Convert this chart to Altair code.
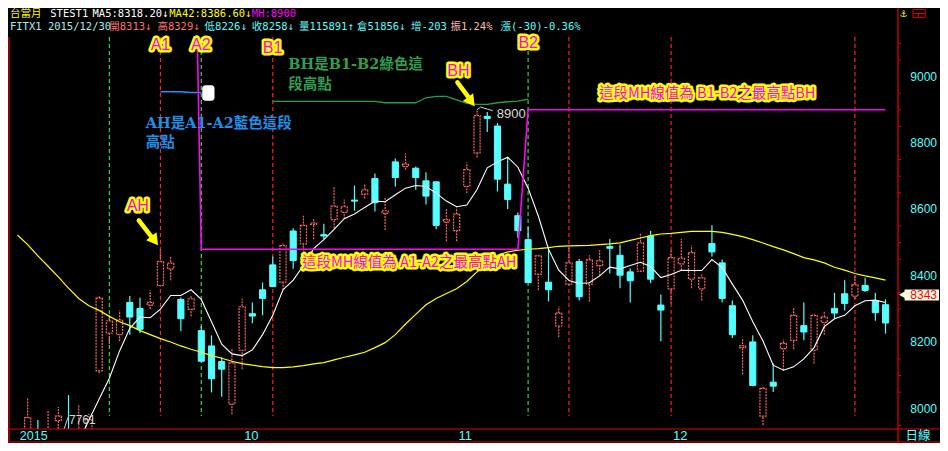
import altair as alt
import pandas as pd

# ---------------- values ----------------
# daily bars: index 0 = first bar on the left ... 84 = 2015/12/30
opens = [7900, 7930, 7890, 7964, 7930, 7880, 7930, 8114, 8228, 8223,
         8320, 8302, 8312, 8371, 8421, 8329, 8299, 8235, 8189, 8142,
         8014, 8176, 8286, 8358, 8433, 8381, 8535, 8496, 8555, 8524,
         8569, 8591, 8628, 8646, 8693, 8588, 8743, 8729, 8724, 8686,
         8683, 8562, 8536, 8669, 8770, 8880, 8851, 8676, 8581, 8509,
         8405, 8381, 8249, 8375, 8443, 8375, 8431, 8488, 8462, 8412,
         8414, 8520, 8312, 8361, 8436, 8390, 8361, 8497, 8439, 8310,
         8184, 8201, 7978, 8080, 8181, 8206, 8250, 8176, 8260, 8302,
         8346, 8339, 8371, 8325, 8313]
highs = [8034, 7966, 7997, 8005, 8041, 8010, 7985, 8339, 8283, 8296,
         8339, 8334, 8357, 8479, 8460, 8335, 8339, 8249, 8221, 8155,
         8179, 8331, 8320, 8380, 8458, 8497, 8543, 8581, 8572, 8557,
         8669, 8630, 8672, 8676, 8708, 8635, 8753, 8768, 8729, 8712,
         8683, 8601, 8606, 8741, 8900, 8893, 8860, 8756, 8591, 8547,
         8465, 8480, 8308, 8489, 8451, 8462, 8477, 8511, 8494, 8422,
         8528, 8535, 8344, 8480, 8511, 8491, 8407, 8552, 8449, 8326,
         8210, 8221, 8068, 8136, 8208, 8305, 8320, 8284, 8293, 8349,
         8387, 8400, 8394, 8349, 8329]
lows = [7880, 7880, 7870, 7930, 7761, 7850, 7900, 8107, 8195, 8203,
        8223, 8228, 8300, 8368, 8387, 8233, 8278, 8140, 8049, 8036,
        7983, 8119, 8257, 8281, 8366, 8358, 8421, 8440, 8510, 8510,
        8543, 8572, 8596, 8633, 8594, 8538, 8669, 8719, 8659, 8615,
        8540, 8504, 8504, 8649, 8756, 8833, 8654, 8601, 8514, 8378,
        8357, 8323, 8215, 8371, 8326, 8323, 8400, 8407, 8363, 8320,
        8412, 8378, 8203, 8317, 8417, 8363, 8326, 8458, 8320, 8213,
        8104, 8068, 7951, 8050, 8116, 8179, 8206, 8136, 8223, 8271,
        8296, 8330, 8351, 8265, 8226]
closes = [7973, 7900, 7930, 7978, 7800, 7920, 7968, 8333, 8264, 8267,
          8276, 8239, 8320, 8443, 8438, 8271, 8331, 8143, 8090, 8119,
          8138, 8307, 8279, 8332, 8368, 8491, 8446, 8552, 8559, 8520,
          8610, 8608, 8625, 8659, 8620, 8596, 8696, 8736, 8696, 8640,
          8552, 8569, 8586, 8720, 8882, 8874, 8691, 8630, 8536, 8380,
          8460, 8358, 8288, 8439, 8337, 8448, 8445, 8483, 8402, 8385,
          8499, 8390, 8297, 8455, 8453, 8470, 8394, 8472, 8332, 8223,
          8189, 8070, 8061, 8068, 8197, 8281, 8231, 8281, 8276, 8288,
          8317, 8373, 8356, 8289, 8258]

ma5_start = 5
ma5 = [7900, 7966, 8029, 8092, 8174, 8242, 8276, 8274, 8300, 8341,
       8341, 8358, 8329, 8262, 8194, 8165, 8160, 8177, 8223, 8281,
       8358, 8387, 8431, 8482, 8509, 8540, 8572, 8586, 8606, 8625,
       8623, 8644, 8664, 8672, 8669, 8649, 8625, 8608, 8613, 8660,
       8725, 8743, 8757, 8727, 8664, 8580, 8480, 8417, 8386, 8377,
       8379, 8400, 8426, 8421, 8431, 8441, 8428, 8395, 8404, 8417,
       8416, 8416, 8449, 8425, 8375, 8327, 8262, 8204, 8131, 8116,
       8126, 8150, 8184, 8247, 8271, 8281, 8310, 8325, 8327, 8320]

ma42_start = -1
ma42 = [8523,
        8494, 8460, 8429, 8397, 8363, 8332, 8310, 8296, 8278, 8262,
        8250, 8235, 8223, 8211, 8201, 8189, 8179, 8170, 8160, 8152,
        8143, 8136, 8131, 8127, 8124, 8124, 8126, 8130, 8135, 8139,
        8147, 8155, 8162, 8170, 8184, 8199, 8223, 8255, 8284, 8313,
        8332, 8347, 8361, 8383, 8412, 8441, 8462, 8472, 8477, 8480,
        8482, 8485, 8489, 8490, 8491, 8492, 8494, 8496, 8499, 8507,
        8514, 8521, 8526, 8528, 8531, 8534, 8534, 8534, 8531, 8525,
        8518, 8509, 8499, 8488, 8478, 8467, 8455, 8448, 8439, 8426,
        8417, 8407, 8400, 8394, 8387]

mh_start = 16
mh = [10100,
      8480, 8480, 8480, 8480, 8480, 8480, 8480, 8480, 8480, 8480,
      8480, 8480, 8480, 8480, 8480, 8480, 8480, 8480, 8480, 8480,
      8480, 8480, 8480, 8480, 8480, 8480, 8480, 8480, 8480, 8480,
      8480, 8480,
      8900, 8900, 8900, 8900, 8900, 8900, 8900, 8900, 8900, 8900,
      8900, 8900, 8900, 8900, 8900, 8900, 8900, 8900, 8900, 8900,
      8900, 8900, 8900, 8900, 8900, 8900, 8900, 8900, 8900, 8900,
      8900, 8900, 8900, 8900, 8900, 8900]

bh_start = 24
bh_line = [8925, 8925, 8925, 8925, 8925, 8925, 8925, 8925, 8925, 8925,
           8925, 8921, 8921, 8921, 8921, 8936, 8940, 8940, 8930, 8919,
           8916, 8916, 8921, 8924, 8926, 8932]
ah_start = 13
ah_line = [8954, 8954, 8954, 8952, 8952]

red_marks = [13, 24, 53, 63, 81]
green_marks = [8, 17, 49]
week_ticks = [5, 10, 15, 20, 25, 27, 32, 37, 42, 47, 52, 57, 62, 67, 72, 77, 82]
month_start = [21, 42, 63]
month_labels = ["10", "11", "12"]
price_ticks = [8000, 8200, 8400, 8600, 8800, 9000]
minor_ticks = [7950, 8050, 8100, 8150, 8250, 8300, 8350, 8450, 8500, 8550,
               8650, 8700, 8750, 8850, 8900, 8950, 9050, 9100]
last_price = 8343
max_label = "8900"
min_label = "7761"

header1 = [("台當月", 2, "#ffff00"), ("STEST1", 43, "#ffffff"),
           ("MA5:8318.20↓", 86, "#ffffff"), ("MA42:8386.60↓", 164, "#ffff00"),
           ("MH:8900", 248, "#ff00ff")]
header2 = [("FITX1 2015/12/30", 2, "#a6eeee"), ("開8313↓", 103, "#ff7070"),
           ("高8329↓", 152, "#ff7070"), ("低8226↓", 200, "#55ffff"),
           ("收8258↓", 248, "#55ffff"), ("量115891↑", 296, "#55ffff"),
           ("倉51856↓", 355, "#55ffff"), ("增-203", 410, "#55ffff"),
           ("振1.24%", 450, "#ffb8b8"), ("漲(-30)-0.36%", 501, "#55ffff")]

# ---------------- layout ----------------
W, H = 890, 394
PT, PB, PR = 27, 14, 42
SX, SY = 932 / 948, 435 / 451

UP = "#ff6464"
DN = "#55ffff"
RED = "#e80000"
CYAN = "#55ffff"
NARROW = "Liberation Sans Narrow, Liberation Sans, sans-serif"


def rx(xref):
    return (xref - 20) / 10.385


def ry(yref):
    return 9000 - (yref - 71) / 0.344


def px(xref):
    return xref * SX


def py(yref):
    return (yref - 28) * SY


XS = alt.Scale(domain=[rx(0), rx(905)], nice=False, zero=False)
YS = alt.Scale(domain=[ry(436), ry(28)], nice=False, zero=False)


def X(f):
    return alt.X(f, type="quantitative", scale=XS, axis=None)


def Y(f):
    return alt.Y(f, type="quantitative", scale=YS, axis=None)


idx = list(range(len(opens)))
df = pd.DataFrame({"i": idx, "o": opens, "h": highs, "l": lows, "c": closes})
df["lo_b"] = df[["o", "c"]].min(axis=1)
df["hi_b"] = df[["o", "c"]].max(axis=1)
df["x1"] = df["i"] - 0.3
df["x2"] = df["i"] + 0.3
up_df = df[df["c"] >= df["o"]]
dn_df = df[df["c"] < df["o"]]


def seq(start, vals):
    return pd.DataFrame({"i": list(range(start, start + len(vals))), "v": vals})


layers = []

# axes carrier (ticks + dotted grid)
xaxis = alt.Axis(orient="bottom", values=week_ticks, labels=False, tickColor=RED,
                 tickSize=4, domain=False, grid=False, title="")
yaxis = alt.Axis(orient="right", values=price_ticks, labels=False, tickColor=RED, tickSize=5,
                 domain=False, grid=True, gridColor="#e01010", gridDash=[2, 3],
                 gridWidth=1, title="")
layers.append(alt.Chart(df).mark_point(opacity=0).encode(
    x=alt.X("i:Q", scale=XS, axis=xaxis), y=alt.Y("h:Q", scale=YS, axis=yaxis)))

# vertical dashed marker lines
layers.append(alt.Chart(pd.DataFrame({"i": red_marks})).mark_rule(
    color="#ff2020", strokeWidth=1.2, strokeDash=[4, 3]).encode(
    x=X("i"), y=alt.value(py(30)), y2=alt.value(py(423))))
layers.append(alt.Chart(pd.DataFrame({"i": green_marks})).mark_rule(
    color="#33dd33", strokeWidth=1.2, strokeDash=[4, 3]).encode(
    x=X("i"), y=alt.value(py(30)), y2=alt.value(py(423))))

# candles
layers.append(alt.Chart(up_df).mark_rule(color=UP, strokeWidth=1.2, strokeDash=[2, 1], clip=True).encode(
    x=X("i"), y=Y("l"), y2="h"))
layers.append(alt.Chart(dn_df).mark_rule(color=DN, strokeWidth=1.2, clip=True).encode(
    x=X("i"), y=Y("l"), y2="h"))
layers.append(alt.Chart(up_df).mark_rect(fill="black", stroke=UP, strokeWidth=1.2,
                                         strokeDash=[2, 1], clip=True).encode(
    x=X("x1"), x2="x2", y=Y("lo_b"), y2="hi_b"))
layers.append(alt.Chart(dn_df).mark_rect(fill=DN, stroke=DN, strokeWidth=1, clip=True).encode(
    x=X("x1"), x2="x2", y=Y("lo_b"), y2="hi_b"))

# indicator lines
layers.append(alt.Chart(seq(ma42_start, ma42)).mark_line(color="#ffff00", strokeWidth=1.2, clip=True).encode(
    x=X("i"), y=Y("v")))
layers.append(alt.Chart(seq(ma5_start, ma5)).mark_line(color="#ffffff", strokeWidth=1.1, clip=True).encode(
    x=X("i"), y=Y("v")))
layers.append(alt.Chart(seq(bh_start, bh_line)).mark_line(color="#25a04a", strokeWidth=1.3, clip=True).encode(
    x=X("i"), y=Y("v")))
layers.append(alt.Chart(seq(ah_start, ah_line)).mark_line(color="#1e90ff", strokeWidth=1.5, clip=True).encode(
    x=X("i"), y=Y("v")))
layers.append(alt.Chart(seq(mh_start, mh)).mark_line(color="#ff00ff", strokeWidth=1.6, clip=True).encode(
    x=X("i"), y=Y("v")))

# white blob
layers.append(alt.Chart(pd.DataFrame({"x": [rx(197.5)], "x2": [rx(210)], "y": [ry(96)], "y2": [ry(80)]})).mark_rect(
    color="white", cornerRadius=3).encode(x=X("x"), x2="x2", y=Y("y"), y2="y2"))

# explanation texts
blue_df = pd.DataFrame({"t": ["AH是A1-A2藍色這段", "高點"], "x": [rx(140), rx(140)], "y": [ry(120), ry(140)]})
layers.append(alt.Chart(blue_df).mark_text(align="left", baseline="middle", color="#1e90e8",
                                           font="DejaVu Serif, Noto Sans CJK TC", fontSize=14.5,
                                           fontWeight="bold").encode(x=X("x"), y=Y("y"), text="t:N"))
green_df = pd.DataFrame({"t": ["BH是B1-B2綠色這", "段高點"], "x": [rx(285), rx(285)], "y": [ry(59), ry(80)]})
layers.append(alt.Chart(green_df).mark_text(align="left", baseline="middle", color="#2e9e50",
                                            font="DejaVu Serif, Noto Sans CJK TC", fontSize=14.5,
                                            fontWeight="bold").encode(x=X("x"), y=Y("y"), text="t:N"))

# max / min labels
lead_df = pd.DataFrame({"x": [44.0, 44.35, 45.55], "y": [8900, 8908, 8897], "o": [0, 1, 2]})
layers.append(alt.Chart(lead_df).mark_line(color="#cccccc", strokeWidth=1).encode(
    x=X("x"), y=Y("y"), order="o:Q"))
layers.append(alt.Chart(pd.DataFrame({"t": [max_label], "x": [rx(497)], "y": [ry(110)]})).mark_text(
    align="left", baseline="middle", color="#dddddd", font=NARROW, fontSize=13).encode(
    x=X("x"), y=Y("y"), text="t:N"))
layers.append(alt.Chart(pd.DataFrame({"x": [rx(57)], "y": [ry(436)], "x2": [rx(61)], "y2": [ry(424)]})).mark_rule(
    color="#cccccc", strokeWidth=1).encode(x=X("x"), y=Y("y"), x2="x2", y2="y2"))
layers.append(alt.Chart(pd.DataFrame({"t": [min_label], "x": [rx(62)], "y": [ry(427)]})).mark_text(
    align="left", baseline="middle", color="#c8dcdc", font=NARROW, fontSize=12).encode(
    x=X("x"), y=Y("y"), text="t:N"))

# yellow arrows
arr = pd.DataFrame({"x": [rx(133), rx(457)], "y": [ry(220), ry(77)],
                    "x2": [rx(146), rx(468)], "y2": [ry(237), ry(92)]})
layers.append(alt.Chart(arr).mark_rule(color="#ffff00", strokeWidth=4.5, strokeCap="round").encode(
    x=X("x"), y=Y("y"), x2="x2", y2="y2"))
heads = pd.DataFrame({"x": [rx(148), rx(470)], "y": [ry(239.5), ry(95.5)]})
layers.append(alt.Chart(heads).mark_point(shape="triangle", filled=True, color="#ffff00", opacity=1,
                                          size=170, angle=143).encode(x=X("x"), y=Y("y")))

# glow labels (yellow halo + magenta text)
short_df = pd.DataFrame({"t": ["A1", "A2", "B1", "B2", "AH", "BH"],
                         "x": [rx(155), rx(196), rx(269), rx(529), rx(132), rx(458)],
                         "y": [ry(38.5), ry(38.5), ry(41.5), ry(36), ry(205), ry(65)]})
long_df = pd.DataFrame({"t": ["這段MH線值為 A1-A2之最高點AH", "這段MH線值為 B1-B2之最高點BH"],
                        "x": [rx(299), rx(601)], "y": [ry(264), ry(89)]})
for d, font, size, align in [(short_df, "Liberation Sans, sans-serif", 16, "center"),
                             (long_df, "Noto Sans CJK TC", 14.5, "left")]:
    layers.append(alt.Chart(d).mark_text(align=align, baseline="middle", font=font, fontSize=size,
                                         fill="#ffff00", stroke="#ffff00", strokeWidth=5,
                                         strokeJoin="round").encode(x=X("x"), y=Y("y"), text="t:N"))
    layers.append(alt.Chart(d).mark_text(align=align, baseline="middle", font=font, fontSize=size,
                                         fill="#ff00ff").encode(x=X("x"), y=Y("y"), text="t:N"))

# frame lines
one = pd.DataFrame({"k": [0]})
layers.append(alt.Chart(one).mark_rule(color=RED, strokeWidth=1.2).encode(
    x=alt.value(W), y=alt.value(-PT), y2=alt.value(H + PB)))
layers.append(alt.Chart(one).mark_rule(color=RED, strokeWidth=1.2).encode(
    x=alt.value(1), y=alt.value(py(30)), y2=alt.value(H + 13)))
layers.append(alt.Chart(one).mark_rule(color=RED, strokeWidth=1.2).encode(
    x=alt.value(0), x2=alt.value(W + PR), y=alt.value(H)))
layers.append(alt.Chart(one).mark_rule(color=RED, strokeWidth=1.2).encode(
    x=alt.value(0), x2=alt.value(W + PR), y=alt.value(H + 13)))

# minor price ticks
minor_df = pd.DataFrame({"p": minor_ticks})
layers.append(alt.Chart(minor_df).mark_rule(color=RED, strokeWidth=1).encode(
    y=Y("p"), x=alt.value(W), x2=alt.value(W + 3)))

# price labels on the right
layers.append(alt.Chart(pd.DataFrame({"p": price_ticks})).mark_text(
    align="right", baseline="middle", color=CYAN, font=NARROW, fontSize=12).encode(
    x=alt.value(W + PR - 3), y=Y("p"), text=alt.Text("p:Q", format="d")))

# last-price tag
layers.append(alt.Chart(pd.DataFrame({"y": [ry(291.5)], "y2": [ry(303)]})).mark_rect(
    color="#fffbe2").encode(x=alt.value(px(912)), x2=alt.value(W + PR - 1), y=Y("y"), y2="y2"))
layers.append(alt.Chart(pd.DataFrame({"y": [last_price]})).mark_point(
    shape="triangle-left", filled=True, color="#fffbe2", opacity=1, size=70).encode(
    x=alt.value(px(910)), y=Y("y")))
layers.append(alt.Chart(pd.DataFrame({"t": [str(last_price)], "y": [last_price]})).mark_text(
    align="right", baseline="middle", color="#ff0000", font=NARROW, fontSize=12).encode(
    x=alt.value(W + PR - 3), y=Y("y"), text="t:N"))

# bottom labels
layers.append(alt.Chart(pd.DataFrame({"i": month_start, "t": month_labels})).mark_text(
    align="left", baseline="middle", color=CYAN, dx=2, font=NARROW, fontSize=13).encode(
    x=X("i"), y=alt.value(H + 6.5), text="t:N"))
for t, xr, font in [("2015", 12, NARROW), ("日線", 913, "Noto Sans CJK TC")]:
    layers.append(alt.Chart(one).mark_text(align="left", baseline="middle", color=CYAN,
                                           font=font, fontSize=12.5, text=t).encode(
        x=alt.value(px(xr)), y=alt.value(H + 6.5)))

# header lines
for row, yr in [(header1, 6), (header2, 19.5)]:
    for t, xr, col in row:
        layers.append(alt.Chart(one).mark_text(align="left", baseline="middle", color=col,
                                               font="DejaVu Sans Mono, Noto Sans CJK TC",
                                               fontSize=10.5, text=t).encode(
            x=alt.value(px(xr)), y=alt.value(py(yr))))

# top-right icons
layers.append(alt.Chart(one).mark_text(align="center", baseline="middle", color="#ffff00",
                                       font="DejaVu Sans", fontSize=9, text="⚓").encode(
    x=alt.value(px(911)), y=alt.value(py(6))))
layers.append(alt.Chart(one).mark_rect(fill="black", stroke="#e00000", strokeWidth=1).encode(
    x=alt.value(px(920.5)), x2=alt.value(px(933)), y=alt.value(py(1.5)), y2=alt.value(py(10))))
layers.append(alt.Chart(one).mark_rule(color="#e00000", strokeWidth=1).encode(
    x=alt.value(px(920.5)), x2=alt.value(px(933)), y=alt.value(py(5.8))))
layers.append(alt.Chart(one).mark_rule(color="#e00000", strokeWidth=1).encode(
    x=alt.value(px(926)), y=alt.value(py(5.8)), y2=alt.value(py(10))))

chart = alt.layer(*layers).properties(
    width=W, height=H, background="black",
    padding={"left": 0, "top": PT, "right": PR, "bottom": PB},
    autosize=alt.AutoSizeParams(type="none"),
).configure_view(strokeWidth=0)

chart.save("out.html", embed_options={"renderer": "svg", "actions": False})
